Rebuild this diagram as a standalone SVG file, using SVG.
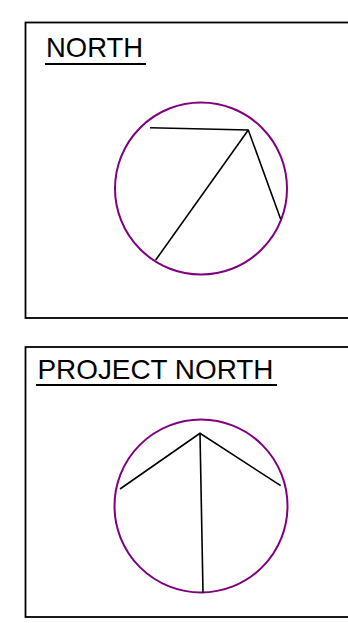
<svg xmlns="http://www.w3.org/2000/svg" width="348" height="623" viewBox="0 0 348 623">
<style>
.frame{fill:none;stroke:#000;stroke-width:1.8}
.ring{fill:none;stroke:#800080;stroke-width:2}
.needle{fill:none;stroke:#000;stroke-width:1.6;stroke-linejoin:miter}
.title{font-family:"Liberation Sans",Arial,sans-serif;font-size:28.5px;fill:#000}
.ul{stroke:#000;stroke-width:2}
</style>
<rect width="348" height="623" fill="#fff"/>
<g id="north">
<rect class="frame" x="25.5" y="22.5" width="330" height="295.5"/>
<text class="title" x="46" y="57" textLength="97" lengthAdjust="spacingAndGlyphs">NORTH</text>
<line class="ul" x1="45" y1="64" x2="146" y2="64"/>
<circle class="ring" cx="201" cy="188.5" r="86"/>
<polyline class="needle" points="150,127.7 248.3,130 280.7,219.3"/>
<line class="needle" x1="248.3" y1="130" x2="155.7" y2="260"/>
</g>
<g id="project-north">
<rect class="frame" x="25.5" y="347" width="330" height="270"/>
<text class="title" x="37.5" y="378.7" textLength="236" lengthAdjust="spacingAndGlyphs">PROJECT NORTH</text>
<line class="ul" x1="36" y1="385" x2="277" y2="385"/>
<circle class="ring" cx="201" cy="506" r="86.5"/>
<polyline class="needle" points="120,489 200,433.3 280.7,485.7"/>
<line class="needle" x1="200" y1="433.3" x2="203" y2="593"/>
</g>
</svg>
